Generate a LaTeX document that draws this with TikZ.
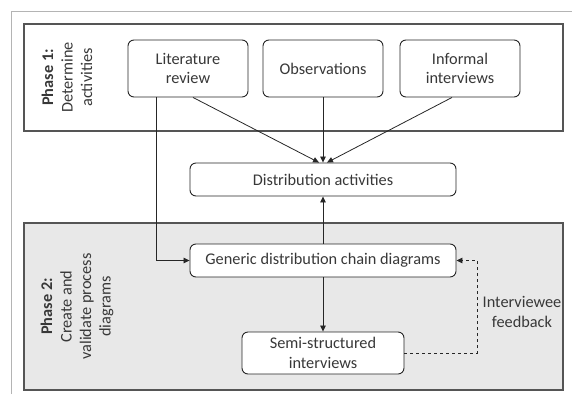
\documentclass[tikz,border=0pt]{standalone}
\usepackage{fontspec}
\setmainfont{Carlito}
\usetikzlibrary{arrows.meta,calc}
\definecolor{linec}{HTML}{262626}
\definecolor{textc}{HTML}{383838}
\definecolor{framec}{HTML}{555555}
\definecolor{outerc}{HTML}{B4B4B4}
\definecolor{phasefill}{HTML}{E8E8E8}
\begin{document}
\begin{tikzpicture}[x=1pt,y=-1pt,
  txt/.style={font=\fontsize{16.3}{19.5}\selectfont, text=textc},
  box/.style={txt, draw=linec, rounded corners=6pt, fill=white, align=center,
              inner sep=0pt, line width=0.9pt},
  phase/.style={draw=framec, line width=1.1pt},
  conn/.style={draw=linec, line width=0.8pt, -{Triangle[length=6pt,width=5.5pt]}},
  plabel/.style={txt, rotate=90, align=center, inner sep=0pt}]
  \useasboundingbox (0,0) rectangle (572,394);
  % page frame (top and left edges only)
  \draw[outerc, line width=1pt] (11,394) -- (11,11) -- (572,11);
  % phase panels
  \draw[phase] (24,24) rectangle (563,131);
  \draw[phase, fill=phasefill] (24,223) rectangle (563,390);
  \node[plabel] (p1) at (67,77.5) {\textbf{Phase 1:}\\Determine\\activities};
  \node[plabel] (p2) at (77,306.5) {\textbf{Phase 2:}\\Create and\\validate process\\diagrams};
  % activity boxes
  \node[box, minimum width=120pt, minimum height=57pt] (lit) at (188,68.5) {Literature\\review};
  \node[box, minimum width=120pt, minimum height=57pt] (obs) at (323,68.5) {Observations};
  \node[box, minimum width=120pt, minimum height=57pt] (inf) at (460,68.5) {Informal\\interviews};
  \node[box, minimum width=266pt, minimum height=33pt] (dist) at (323,179.5) {Distribution activities};
  \node[box, minimum width=266pt, minimum height=33pt] (gen) at (323,260.5) {Generic distribution chain diagrams};
  \node[box, minimum width=162pt, minimum height=42pt] (semi) at (323,353) {Semi-structured\\interviews};
  \node[txt, align=center, inner sep=0pt] (fbl) at (522,312) {Interviewee\\feedback};
  % connectors
  \draw[conn] ($(lit.south)+(5,0)$) -- ($(dist.north)+(-4,0)$);
  \draw[conn] (obs.south) -- (dist.north);
  \draw[conn] ($(inf.south)+(-8,0)$) -- ($(dist.north)+(4,0)$);
  \draw[conn] ($(lit.south west)+(29,0)$) |- (gen.west);
  \draw[conn] (gen.north) -- (dist.south);
  \draw[conn] (gen.south) -- (semi.north);
  \draw[conn, dashed] (semi.east) -| ($(gen.east)+(21,0)$) -- (gen.east);
\end{tikzpicture}
\end{document}
